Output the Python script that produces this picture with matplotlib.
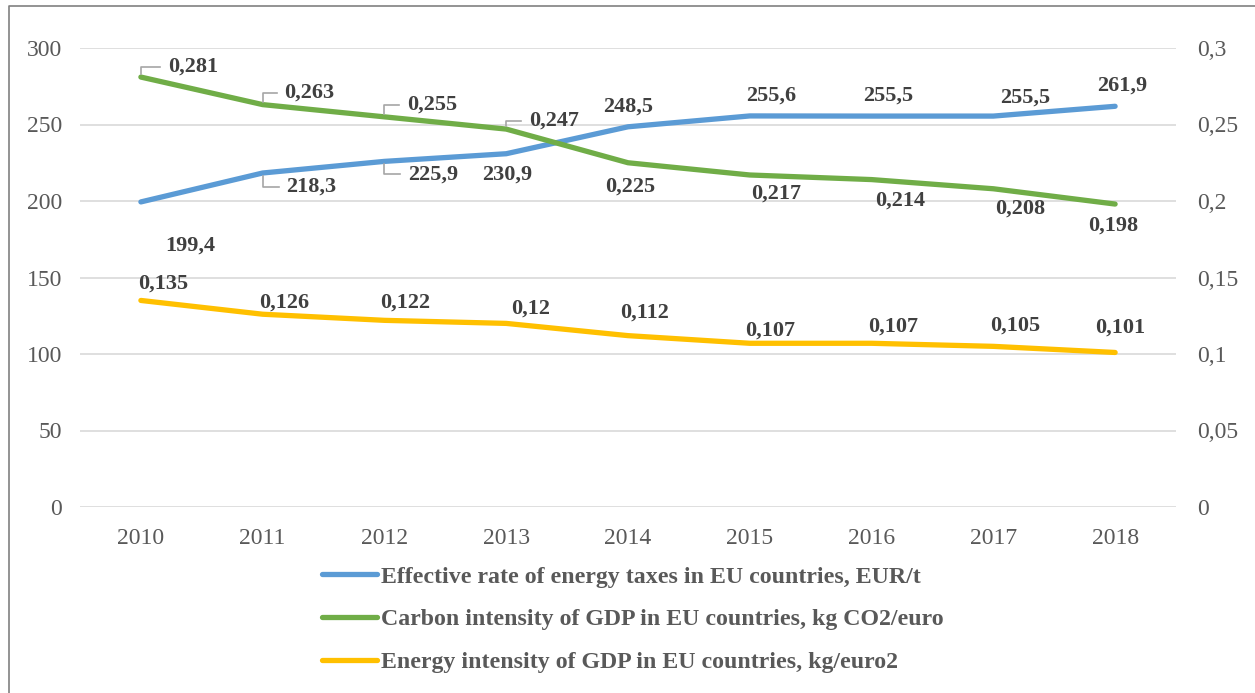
import matplotlib
matplotlib.use("Agg")
import matplotlib.pyplot as plt
from matplotlib.lines import Line2D
from matplotlib.transforms import IdentityTransform

years = ["2010", "2011", "2012", "2013", "2014", "2015", "2016", "2017", "2018"]
tax_rate = [199.4, 218.3, 225.9, 230.9, 248.5, 255.6, 255.5, 255.5, 261.9]
carbon_int = [0.281, 0.263, 0.255, 0.247, 0.225, 0.217, 0.214, 0.208, 0.198]
energy_int = [0.135, 0.126, 0.122, 0.12, 0.112, 0.107, 0.107, 0.105, 0.101]

left_ticks = [0, 50, 100, 150, 200, 250, 300]
right_ticks = [0, 0.05, 0.1, 0.15, 0.2, 0.25, 0.3]
right_tick_labels = ["0", "0,05", "0,1", "0,15", "0,2", "0,25", "0,3"]

series_names = [
    "Effective rate of energy taxes in EU countries, EUR/t",
    "Carbon intensity of GDP in EU countries, kg CO2/euro",
    "Energy intensity of GDP in EU countries, kg/euro2",
]

BLUE = "#5B9BD5"
GREEN = "#70AD47"
YELLOW = "#FFC000"
TXT = "#404040"
TICK = "#595959"
GRID = "#D9D9D9"
LEADER = "#A6A6A6"

W, H, DPI = 1255, 693, 100
plt.rcParams["font.family"] = ["Liberation Serif", "DejaVu Serif"]

fig = plt.figure(figsize=(W / DPI, H / DPI), dpi=DPI)
ax = fig.add_axes([80 / W, 1 - 507 / H, (1176 - 80) / W, (507 - 48) / H])
ax2 = ax.twinx()

x = list(range(len(years)))
ax.set_xlim(-0.5, len(years) - 0.5)
ax.set_ylim(0, 300)
ax2.set_ylim(0, 0.3)

ax.set_yticks(left_ticks)
ax.set_yticklabels([str(t) for t in left_ticks])
ax2.set_yticks(right_ticks)
ax2.set_yticklabels(right_tick_labels)
ax.set_xticks(x)
ax.set_xticklabels(years)

for a in (ax, ax2):
    for s in a.spines.values():
        s.set_visible(False)
    a.tick_params(length=0, labelsize=17, labelcolor=TICK)
ax.tick_params(axis="y", pad=13)
ax2.tick_params(axis="y", pad=15)
ax.tick_params(axis="x", pad=15)
ax.grid(axis="y", color=GRID, linewidth=1.2)
ax.set_axisbelow(True)

lw = 3.8
l1, = ax.plot(x, tax_rate, color=BLUE, lw=lw, solid_capstyle="round", solid_joinstyle="round", zorder=3)
l2, = ax2.plot(x, carbon_int, color=GREEN, lw=lw, solid_capstyle="round", solid_joinstyle="round", zorder=3)
l3, = ax2.plot(x, energy_int, color=YELLOW, lw=lw, solid_capstyle="round", solid_joinstyle="round", zorder=3)


def fmt(v):
    s = f"{v:.3f}".rstrip("0").rstrip(".") if v < 1 else f"{v:.1f}"
    return s.replace(".", ",")


# label offsets in pixels (dx right, dy down) and whether a leader line is drawn
blue_off = [(49, 44, False), (49, 14, True), (49, 13, True), (1, 21, False), (0, -20, False),
            (21, -20, False), (17, -20, False), (32, -18, False), (7, -21, False)]
green_off = [(52, -10, True), (47, -12, True), (48, -12, True), (48, -8, True), (2, 24, False),
             (26, 19, False), (29, 21, False), (27, 20, False), (-2, 22, False)]
yellow_off = [(22, -17, False), (22, -12, False), (21, -18, False), (24, -15, False), (17, -23, False),
              (20, -13, False), (22, -17, False), (22, -21, False), (5, -25, False)]

fig.canvas.draw()


def label(axis, vals, offs):
    for xi, v, (dx, dy, lead) in zip(x, vals, offs):
        px, py = axis.transData.transform((xi, v))
        tx, ty = px + dx, py - dy
        t = fig.text(tx, ty, fmt(v), transform=IdentityTransform(), ha="center", va="center",
                     fontsize=16, fontweight="bold", color=TXT)
        if lead:
            bb = t.get_window_extent(renderer=fig.canvas.get_renderer())
            sgn = 1 if ty > py else -1
            fig.add_artist(Line2D([px, px, bb.x0 - 8], [py + sgn * 3, ty, ty],
                                  transform=IdentityTransform(), color=LEADER, lw=1.2))


label(ax, tax_rate, blue_off)
label(ax2, carbon_int, green_off)
label(ax2, energy_int, yellow_off)

leg = fig.legend([l1, l2, l3], series_names, loc="upper left",
                 bbox_to_anchor=(322 / W, 1 - 566 / H), frameon=False,
                 prop={"size": 17.2, "weight": "bold"}, handlelength=2.3,
                 handletextpad=0.15, labelspacing=0.88, borderpad=0, borderaxespad=0)
for txt in leg.get_texts():
    txt.set_color(TICK)

# outer frame lines
fig.add_artist(Line2D([9, 9, W], [0, H - 6, H - 6], transform=IdentityTransform(),
                      color="#808080", lw=1.2))

fig.savefig("out.png", dpi=DPI)
